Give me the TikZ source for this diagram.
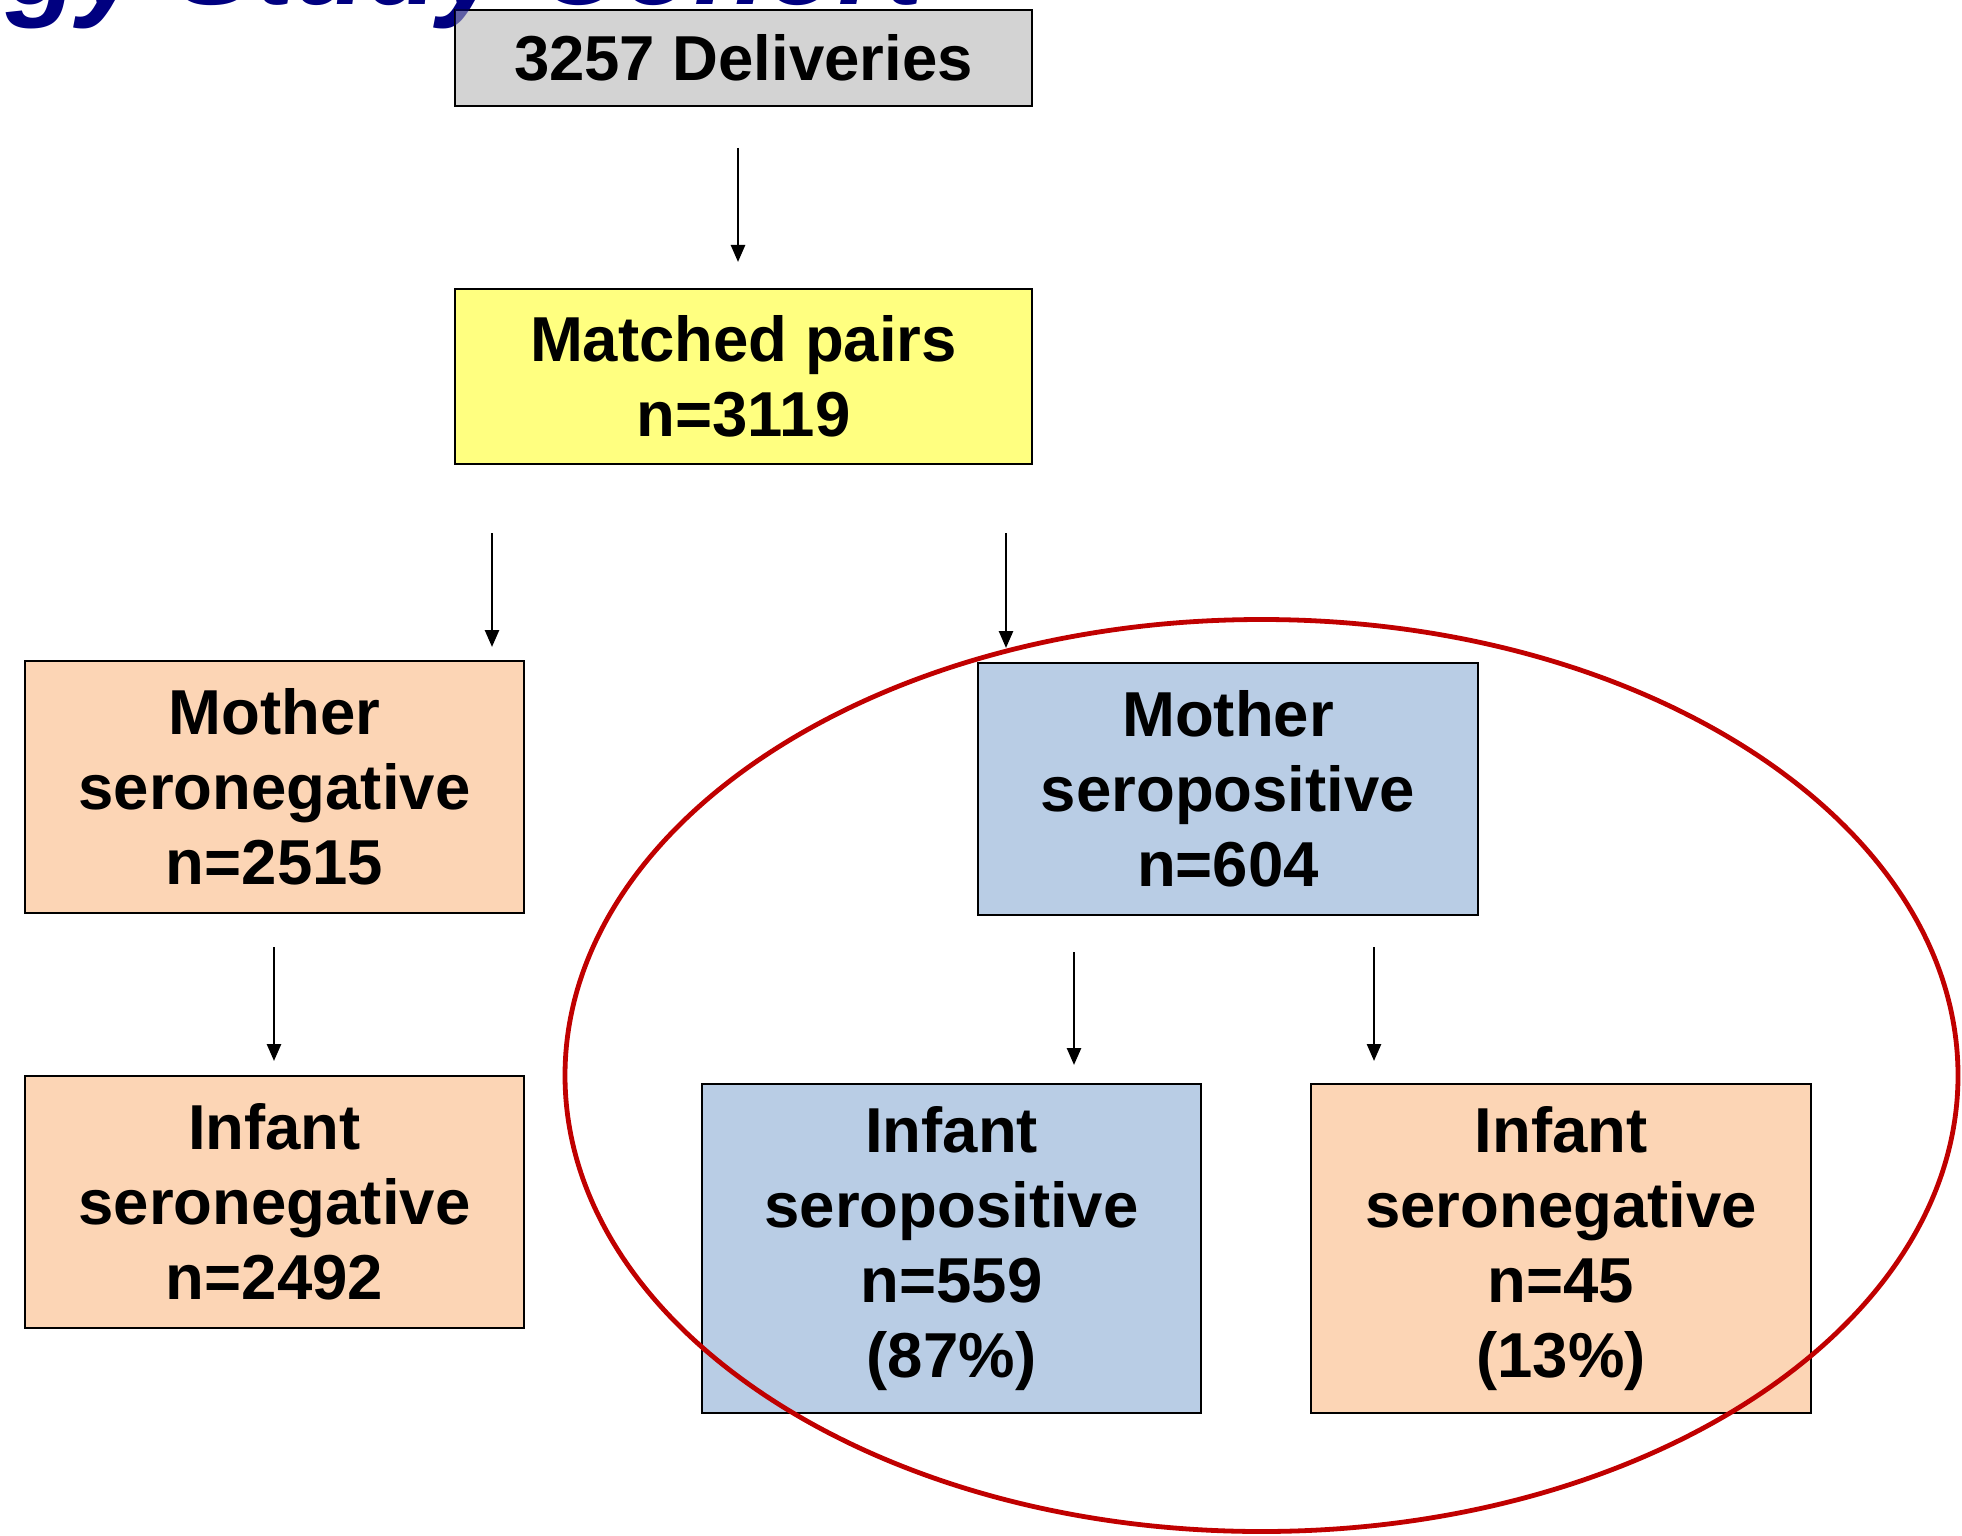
\documentclass[tikz,border=0pt]{standalone}
\usepackage{fontspec}
\setmainfont{Liberation Sans}
\usetikzlibrary{arrows.meta}
\definecolor{boxgray}{RGB}{211,211,211}
\definecolor{boxyellow}{RGB}{255,255,128}
\definecolor{boxpeach}{RGB}{252,213,181}
\definecolor{boxblue}{RGB}{185,205,229}
\definecolor{ringred}{RGB}{192,0,0}
\definecolor{titlenavy}{RGB}{0,0,128}
\tikzset{
  flowbox/.style={draw=black, line width=0.8pt, inner sep=0pt, align=center,
    font=\bfseries\fontsize{31.75}{37.5}\selectfont, text=black},
  flowarrow/.style={draw=black, line width=1.3pt, -{Triangle[length=8.5pt,width=7pt]}},
  ring/.style={draw=ringred, line width=2.4pt},
  titletext/.style={font=\bfseries\itshape\fontsize{59}{70}\selectfont, inner sep=0pt, anchor=base west}
}
\begin{document}
\begin{tikzpicture}[x=0.5pt, y=-0.5pt]
\useasboundingbox (0,0) rectangle (1962,1535);
\clip (0,0) rectangle (1962,1535);
% partially cut-off title
\node[titletext, text=titlenavy] (title) at (6,5) {gy Study Cohort};
% boxes
\node[flowbox, fill=boxgray, minimum width=288.5pt, minimum height=48pt] (deliv) at (743.5,58) {3257 Deliveries};
\begin{scope}
  \clip (455,10) rectangle (1032,106);
  \node[titletext, text=titlenavy, text opacity=0.55] (titleover) at (6,5) {gy Study Cohort};
\end{scope}
\node[flowbox, fill=boxyellow, minimum width=288.5pt, minimum height=87.5pt] (pairs) at (743.5,376.5) {Matched pairs\\n=3119};
\node[flowbox, fill=boxpeach, minimum width=249.5pt, minimum height=126pt] (mneg) at (274.5,787) {Mother\\seronegative\\n=2515};
\node[flowbox, fill=boxblue, minimum width=250pt, minimum height=126pt] (mpos) at (1228,789) {Mother\\seropositive\\n=604};
\node[flowbox, fill=boxpeach, minimum width=249.5pt, minimum height=126pt] (ineg) at (274.5,1202) {Infant\\seronegative\\n=2492};
\node[flowbox, fill=boxblue, minimum width=249.5pt, minimum height=164.5pt] (ipos) at (951.5,1248.5) {Infant\\seropositive\\n=559\\(87\%)};
\node[flowbox, fill=boxpeach, minimum width=250pt, minimum height=164.5pt] (ineg2) at (1561,1248.5) {Infant\\seronegative\\n=45\\(13\%)};
% arrow end points (arrows float between boxes)
\coordinate (a1s) at (738,148);  \coordinate (a1e) at (738,262);
\coordinate (a2s) at (492,533);  \coordinate (a2e) at (492,647);
\coordinate (a3s) at (1006,533); \coordinate (a3e) at (1006,648);
\coordinate (a4s) at (274,947);  \coordinate (a4e) at (274,1061);
\coordinate (a5s) at (1074,952); \coordinate (a5e) at (1074,1065);
\coordinate (a6s) at (1374,947); \coordinate (a6e) at (1374,1061);
\draw[flowarrow] (a1s) -- (a1e);
\draw[flowarrow] (a2s) -- (a2e);
\draw[flowarrow] (a3s) -- (a3e);
\draw[flowarrow] (a4s) -- (a4e);
\draw[flowarrow] (a5s) -- (a5e);
\draw[flowarrow] (a6s) -- (a6e);
% red ellipse
\draw[ring] (1261.5,1075.5) ellipse [x radius=696.5, y radius=456];
\end{tikzpicture}
\end{document}
